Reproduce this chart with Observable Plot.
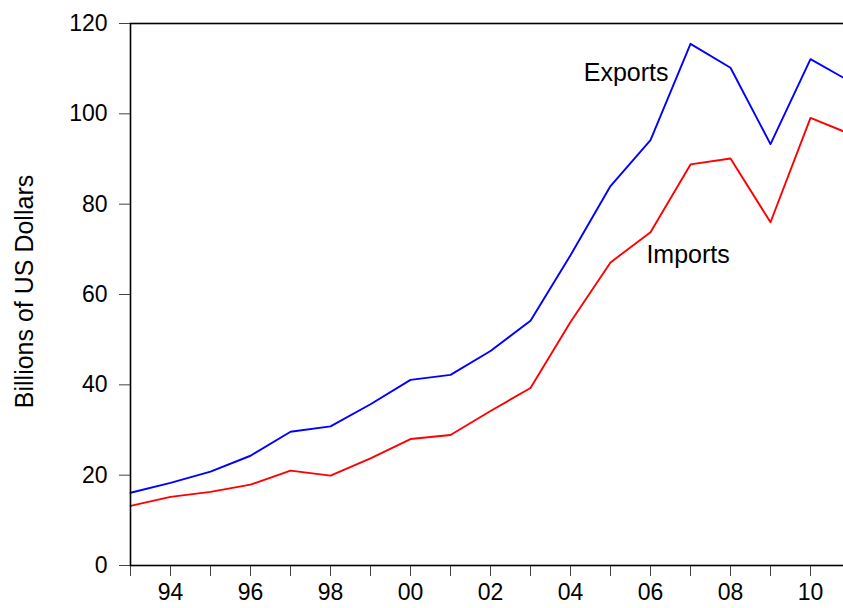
<!DOCTYPE html>
<html>
<head>
<meta charset="utf-8">
<script src="https://cdn.jsdelivr.net/npm/d3@7"></script>
<script src="https://cdn.jsdelivr.net/npm/@observablehq/plot@0.6"></script>
<style>
  html, body { margin: 0; padding: 0; background: #fff; overflow: hidden; }
  svg { max-width: none !important; display: block; }
</style>
</head>
<body>
<div id="chart"></div>
<script>
const years = [1993,1994,1995,1996,1997,1998,1999,2000,2001,2002,2003,2004,2005,2006,2007,2008,2009,2010,2011];
const exportsVals = [16.1,18.3,20.8,24.3,29.6,30.8,35.7,41.1,42.2,47.5,54.2,68.7,84.0,94.2,115.5,110.2,93.3,112.1,107.1];
const importsVals = [13.2,15.2,16.3,17.9,21.0,19.9,23.7,28.0,28.9,34.2,39.3,53.9,67.1,73.8,88.8,90.1,76.0,99.1,95.5];
const yTicks = [0,20,40,60,80,100,120];
const seriesNames = ["Exports","Imports"];

const rows = [];
years.forEach((y,i) => {
  rows.push({year: y, value: exportsVals[i], series: seriesNames[0]});
  rows.push({year: y, value: importsVals[i], series: seriesNames[1]});
});

const font = "'Liberation Sans', Arial, sans-serif";

const chart = Plot.plot({
  width: 850,
  height: 608,
  marginLeft: 130,
  marginRight: 0,
  marginTop: 23,
  marginBottom: 43,
  style: {fontFamily: font, background: "#fff", color: "#000"},
  x: {domain: [1993, 2011]},
  y: {domain: [0, 120]},
  color: {domain: seriesNames, range: ["#0000ff", "#ff0000"]},
  marks: [
    Plot.axisY({ticks: yTicks, tickSize: 11, tickPadding: 12, fontSize: 23, label: null, stroke: "#444"}),
    Plot.axisX({ticks: years, tickSize: 11, tickPadding: 7, fontSize: 23, label: null, stroke: "#444",
      tickFormat: d => d % 2 === 0 ? String(d % 100).padStart(2, "0") : ""}),
    Plot.line(rows, {x: "year", y: "value", z: "series", stroke: "series", strokeWidth: 1.9}),
    Plot.frame({stroke: "#000", strokeWidth: 1.6}),
    Plot.text([seriesNames[0]], {x: 2005.39, y: 109.1, text: d => d, fontSize: 25, fill: "#000"}),
    Plot.text([seriesNames[1]], {x: 2006.94, y: 68.8, text: d => d, fontSize: 25, fill: "#000"}),
    Plot.text(["Billions of US Dollars"], {frameAnchor: "left", dx: -106, dy: -3, rotate: -90, textAnchor: "middle", text: d => d, fontSize: 25, fill: "#000"})
  ]
});
document.getElementById("chart").appendChild(chart);
</script>
</body>
</html>
